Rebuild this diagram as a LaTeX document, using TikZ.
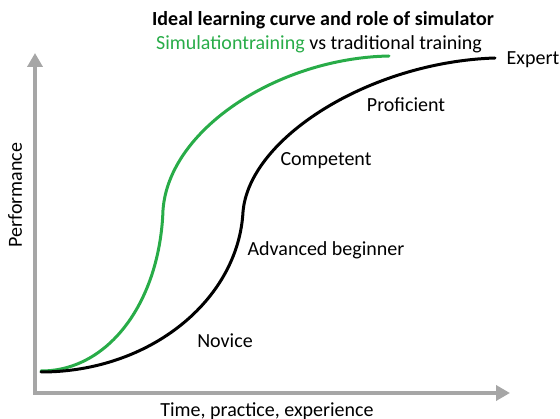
\documentclass[tikz,border=0pt]{standalone}
\usepackage{fontspec}
\setmainfont{Carlito}
\usepackage{tikz}
\usetikzlibrary{arrows.meta,positioning}
\definecolor{simgreen}{RGB}{40,172,72}
\definecolor{axisgray}{RGB}{166,166,166}

\begin{document}
\begin{tikzpicture}[
x=1pt, y=-1pt,
font=\fontsize{20}{24}\selectfont,
axis/.style={line width=4.5pt, draw=axisgray, >={Triangle[length=14pt,width=15pt]}},
simcurve/.style={line width=3pt, draw=simgreen, line cap=round},
tradcurve/.style={line width=3pt, draw=black, line cap=round},
stage/.style={inner sep=0pt}
]
    \useasboundingbox (0,0) rectangle (560,419);

    % Draw axes
    \draw [axis,<->] (35,53) coordinate (yaxis)
        |- (510,393) coordinate (xaxis);

    \node (perf) [stage, rotate=90] at (15,195) {Performance};
    \node (time) [stage] at (267,411) {Time, practice, experience};

    % Title
    \node (title) [stage, font=\fontsize{20}{24}\selectfont\bfseries] at (323,20) {Ideal learning curve and role of simulator};
    \node (subtitle) [stage] at (319,44) {\textcolor{simgreen}{Simulationtraining} vs traditional training};

    % Simulation training
    \draw[simcurve] (41,371) coordinate (simstart)
        .. controls (110,371) and (160,300) .. (163,210) coordinate (simmid)
        .. controls (169,128) and (280,58) .. (389,56) coordinate (simend);

    % Traditional training
    \draw[tradcurve] (41,372) coordinate (tradstart)
        .. controls (150,372) and (238,300) .. (243,212) coordinate (tradmid)
        .. controls (249,138) and (370,62) .. (495,58) coordinate (tradend);

    % Stages
    \node (novice) [stage] at (225,341) {Novice};
    \node (advbeg) [stage] at (326,250) {Advanced beginner};
    \node (compet) [stage] at (326,161) {Competent};
    \node (profic) [stage] at (406,105) {Proficient};
    \node (expert) [stage] at (533,60) {Expert};

\end{tikzpicture}
\end{document}
